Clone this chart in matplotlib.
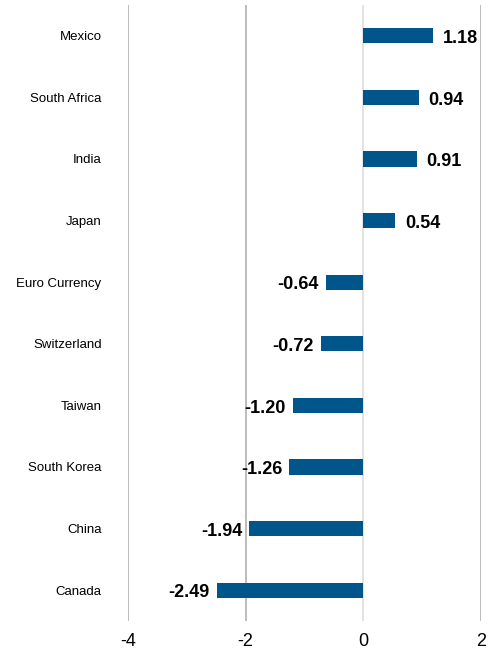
import matplotlib
matplotlib.use('Agg')
import matplotlib.pyplot as plt

plt.rcParams['font.family'] = ['Liberation Sans Narrow', 'Liberation Sans', 'DejaVu Sans']

countries = ['Mexico', 'South Africa', 'India', 'Japan', 'Euro Currency',
             'Switzerland', 'Taiwan', 'South Korea', 'China', 'Canada']
values = [1.18, 0.94, 0.91, 0.54, -0.64, -0.72, -1.20, -1.26, -1.94, -2.49]
xticks = [-4, -2, 0, 2]

bar_color = '#00568A'

fig = plt.figure(figsize=(4.95, 6.61), dpi=100)
ax = fig.add_axes([128 / 495, 1 - 621 / 661, 353 / 495, 616 / 661])

pos = list(range(len(countries)))
ax.barh(pos, values, height=0.25, color=bar_color, zorder=3)

for p, v in zip(pos, values):
    if v >= 0:
        ax.annotate(f'{v:.2f}', (v, p), xytext=(7, -2), textcoords='offset points',
                    ha='left', va='center', fontsize=13, fontweight='bold')
    else:
        ax.annotate(f'{v:.2f}', (v, p), xytext=(-5, -2), textcoords='offset points',
                    ha='right', va='center', fontsize=13, fontweight='bold')

ax.set_xlim(-4, 2)
ax.set_ylim(len(countries) - 0.5, -0.5)
ax.set_xticks(xticks)
ax.set_xticklabels([str(t) for t in xticks], fontsize=13)
ax.set_yticks(pos)
ax.set_yticklabels(countries, fontsize=9.5)

# vertical grid lines, zero line a bit lighter
for t in xticks:
    ax.axvline(t, color='#DDDDDD' if t == 0 else '#B0B0B0', lw=1.2, zorder=1)

for s in ax.spines.values():
    s.set_visible(False)
ax.tick_params(axis='y', length=0, pad=19)
ax.tick_params(axis='x', length=0, pad=9)

fig.savefig('out.png', dpi=100)
